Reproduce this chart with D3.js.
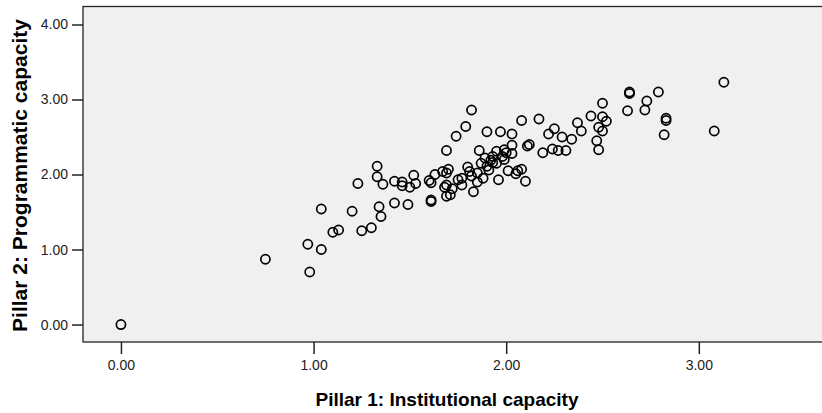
<!DOCTYPE html>
<html>
<head>
<meta charset="utf-8">
<script src="https://cdn.jsdelivr.net/npm/d3@7"></script>
<style>
    body { margin: 0; background: #fff; }
    text { font-family: "Liberation Sans", Arial, sans-serif; }
</style>
</head>
<body>
<div id="scatter-chart"></div>
<script>
// Pillar 1 (institutional) vs Pillar 2 (programmatic) scores
var institutional = [
    0.00, 0.75, 0.98, 0.97, 1.04, 1.04, 1.10, 1.13, 1.20, 1.23,
    1.25, 1.30, 1.33, 1.33, 1.36, 1.34, 1.35, 1.42, 1.42, 1.46,
    1.46, 1.50, 1.49, 1.52, 1.53, 1.60, 1.61, 1.61, 1.61, 1.63,
    1.69, 1.67, 1.70, 1.69, 1.69, 1.68, 1.72, 1.69, 1.71, 1.74,
    1.79, 1.82, 1.75, 1.77, 1.80, 1.81, 1.85, 1.83, 1.85, 1.88,
    1.86, 1.87, 1.90, 1.92, 1.93, 1.95, 1.90, 1.97, 1.95, 1.99,
    2.00, 2.03, 1.98, 1.99, 1.96, 2.01, 2.05, 2.06, 2.08, 2.10,
    2.03, 2.03, 2.08, 2.17, 2.11, 2.12, 2.19, 2.22, 2.25, 2.24,
    2.27, 2.31, 2.29, 2.34, 2.37, 2.39, 2.44, 2.50, 2.50, 2.52,
    2.48, 2.50, 2.47, 2.48, 2.64, 2.64, 2.63, 2.73, 2.72, 2.79,
    2.83, 2.83, 2.82, 3.08, 3.13, 1.82, 1.91, 1.93, 1.89, 1.77
];
var programmatic = [
    0.00, 0.87, 0.70, 1.07, 1.00, 1.54, 1.23, 1.26, 1.51, 1.88,
    1.25, 1.29, 2.11, 1.97, 1.87, 1.57, 1.44, 1.91, 1.62, 1.90,
    1.85, 1.83, 1.60, 1.99, 1.88, 1.92, 1.89, 1.66, 1.64, 2.00,
    2.32, 2.04, 2.07, 2.02, 1.86, 1.83, 1.81, 1.71, 1.73, 2.51,
    2.64, 2.86, 1.93, 1.95, 2.10, 2.04, 2.02, 1.77, 1.90, 1.95,
    2.32, 2.15, 2.11, 2.19, 2.16, 2.15, 2.57, 2.57, 2.31, 2.33,
    2.29, 2.28, 2.24, 2.20, 1.93, 2.05, 2.01, 2.05, 2.07, 1.91,
    2.54, 2.39, 2.72, 2.74, 2.38, 2.40, 2.29, 2.54, 2.61, 2.34,
    2.32, 2.32, 2.50, 2.47, 2.69, 2.58, 2.78, 2.95, 2.77, 2.71,
    2.63, 2.58, 2.45, 2.33, 3.10, 3.08, 2.85, 2.98, 2.86, 3.10,
    2.75, 2.72, 2.53, 2.58, 3.23, 1.98, 2.06, 2.24, 2.22, 1.86
];
var xTicks = [0, 1, 2, 3];
var yTicks = [0, 1, 2, 3, 4];

var points = institutional.map(function(x, i) {
    return { x: x, y: programmatic[i] };
});

var margin = { top: 6.5, right: -8, bottom: 71, left: 83 },
    width = 822 - margin.left - margin.right,
    height = 413 - margin.top - margin.bottom;

var xScale = d3.scaleLinear()
    .domain([-0.197, 3.681])
    .range([0, width]);

var yScale = d3.scaleLinear()
    .domain([-0.233, 4.24])
    .range([height, 0]);

var svg = d3.select("#scatter-chart").append("svg")
    .attr("width", 822)
    .attr("height", 413)
    .append("g")
    .attr("transform", "translate(" + margin.left + "," + margin.top + ")");

// plot background with frame
svg.append("rect")
    .attr("width", width)
    .attr("height", height)
    .style("fill", "#f0f0f0")
    .style("stroke", "#222")
    .style("stroke-width", 1.3);

var xAxis = d3.axisBottom(xScale)
    .tickValues(xTicks)
    .tickSizeInner(12)
    .tickSizeOuter(0)
    .tickPadding(6)
    .tickFormat(d3.format(".2f"));

var yAxis = d3.axisLeft(yScale)
    .tickValues(yTicks)
    .tickSizeInner(11)
    .tickSizeOuter(0)
    .tickPadding(4)
    .tickFormat(d3.format(".2f"));

svg.append("g")
    .attr("class", "x axis")
    .attr("transform", "translate(0," + height + ")")
    .call(xAxis);

svg.append("g")
    .attr("class", "y axis")
    .call(yAxis);

svg.selectAll(".axis .domain").remove();
svg.selectAll(".axis line").style("stroke", "#222").style("stroke-width", 1.5);
svg.selectAll(".axis text")
    .style("font-size", "14px")
    .style("fill", "#222");

// markers
svg.append("g")
    .selectAll("circle")
    .data(points)
    .enter().append("circle")
    .attr("cx", function(d) { return xScale(d.x); })
    .attr("cy", function(d) { return yScale(d.y); })
    .attr("r", 4.6)
    .style("fill", "none")
    .style("stroke", "#000")
    .style("stroke-width", 1.7);

// axis titles
svg.append("text")
    .attr("x", 447 - margin.left)
    .attr("y", 406 - margin.top)
    .attr("text-anchor", "middle")
    .style("font-size", "19px")
    .style("font-weight", "bold")
    .text("Pillar 1: Institutional capacity");

svg.append("text")
    .attr("transform", "translate(" + (27 - margin.left) + "," + (175.5 - margin.top) + ") rotate(-90)")
    .attr("text-anchor", "middle")
    .style("font-size", "21px")
    .style("font-weight", "bold")
    .text("Pillar 2: Programmatic capacity");
</script>
</body>
</html>
